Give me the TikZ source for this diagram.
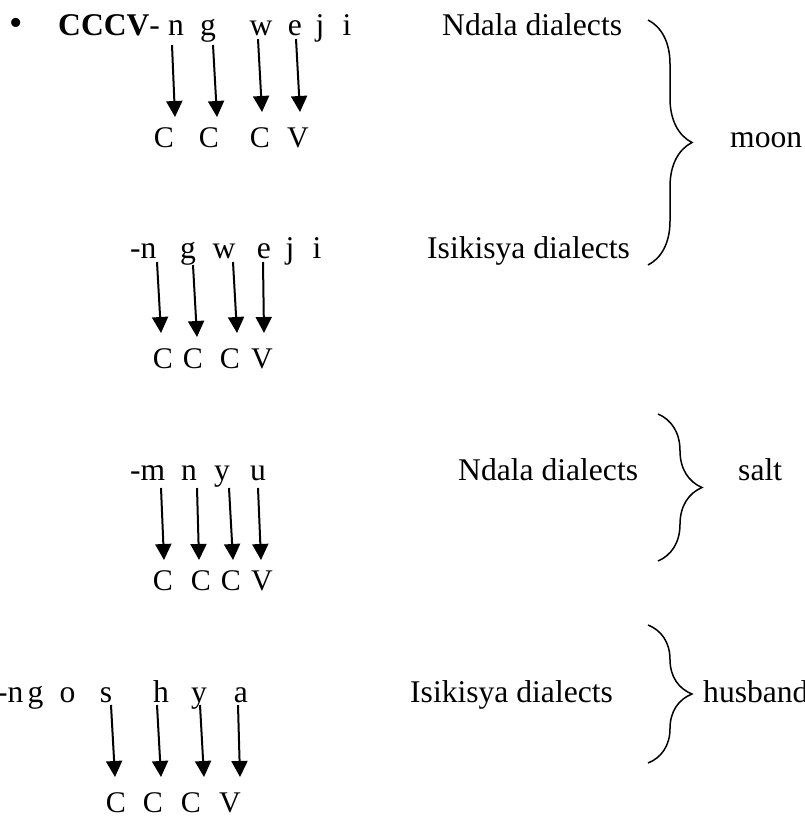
\documentclass[tikz,border=0pt]{standalone}
\usepackage{fontspec}
\setmainfont{Liberation Serif}
\usetikzlibrary{arrows.meta}
\usetikzlibrary{decorations.pathreplacing}

\begin{document}
\begin{tikzpicture}[x=1pt,y=-1pt]

\tikzset{
  % letters of a word and the names, set on their baseline
  seg/.style={inner sep=0pt, anchor=base, font=\fontsize{31.6}{36}\selectfont},
  gloss/.style={seg, anchor=base west},
  % the C/V slots under a word
  slot/.style={seg, font=\fontsize{30}{34}\selectfont},
  % arrow from a letter down to its slot
  slot arrow/.style={line width=2pt, -{Triangle[width=16pt,length=16pt]}},
  % brace that groups the dialect forms
  group brace/.style={line width=1.5pt, decorate, decoration={brace, amplitude=44pt}},
}

\useasboundingbox (0,0) rectangle (805,817);

% ngweji, Ndala
\node[seg, anchor=center, font=\fontsize{38}{38}\selectfont] (dot) at (16.5,27) {\textbullet};
\node[gloss] (cccv) at (58,35) {\textbf{CCCV}-};
\foreach \l/\x [count=\k] in {n/176,g/208,w/261,e/295,j/320,i/347}
  \node[seg] (a\k) at (\x,35) {\l};
\foreach \l/\x [count=\k] in {C/164,C/209,C/260,V/298}
  \node[slot] (ca\k) at (\x,147) {\l};
\foreach \xa/\ya/\xb/\yb [count=\k] in {172/45/175/117,213/45/217/117,258/39/262/112,296/39/300/112} {
  \coordinate (ta\k) at (\xa,\ya);
  \coordinate (ha\k) at (\xb,\yb);
  \draw[slot arrow] (ta\k) -- (ha\k);
}

% ngweji, Isikisya
\node[gloss] (b1) at (130,258) {-n};
\foreach \l/\x [count=\k] in {g/188,w/224,e/264,j/290,i/317}
  \node[seg] (b\the\numexpr\k+1\relax) at (\x,258) {\l};
\foreach \l/\x [count=\k] in {C/163,C/193,C/230,V/262}
  \node[slot] (cb\k) at (\x,368) {\l};
\foreach \xa/\ya/\xb/\yb [count=\k] in {157/262/161/333,193/265/197/337,233/262/237/333,263/262/264/333} {
  \coordinate (tb\k) at (\xa,\ya);
  \coordinate (hb\k) at (\xb,\yb);
  \draw[slot arrow] (tb\k) -- (hb\k);
}

% mnyu
\node[gloss] (c1) at (130,480) {-m};
\foreach \l/\x [count=\k] in {n/189,y/222,u/258}
  \node[seg] (c\the\numexpr\k+1\relax) at (\x,480) {\l};
\foreach \l/\x [count=\k] in {C/163,C/201,C/231,V/262}
  \node[slot] (cc\k) at (\x,590) {\l};
\foreach \xa/\ya/\xb/\yb [count=\k] in {161/488/164/560,197/488/199/560,229/488/233/560,258/488/261/560} {
  \coordinate (tc\k) at (\xa,\ya);
  \coordinate (hc\k) at (\xb,\yb);
  \draw[slot arrow] (tc\k) -- (hc\k);
}

% ngoshya
\node[gloss] (d1) at (-3,702) {-n};
\foreach \l/\x [count=\k] in {g/35.5,o/67.5,s/106,h/161,y/199,a/241}
  \node[seg] (d\the\numexpr\k+1\relax) at (\x,702) {\l};
\foreach \l/\x [count=\k] in {C/116,C/153,C/191,V/230}
  \node[slot] (cd\k) at (\x,812) {\l};
\foreach \xa/\ya/\xb/\yb [count=\k] in {111/705/115/777,157/705/161/777,200/705/204/777,238/705/240/777} {
  \coordinate (td\k) at (\xa,\ya);
  \coordinate (hd\k) at (\xb,\yb);
  \draw[slot arrow] (td\k) -- (hd\k);
}

% dialect names, braces and meanings
\node[gloss] (ndala1) at (442,35) {Ndala dialects};
\node[gloss] (isik1) at (427,258) {Isikisya dialects};
\coordinate (moontop) at (648,20);
\coordinate (moonbot) at (648,265);
\draw[group brace] (moontop) -- (moonbot);
\node[gloss] (moon) at (730,147) {moon};

\node[gloss] (ndala2) at (458,480) {Ndala dialects};
\coordinate (salttop) at (658,414);
\coordinate (saltbot) at (658,561);
\draw[group brace] (salttop) -- (saltbot);
\node[gloss] (salt) at (738,480) {salt};

\node[gloss] (isik2) at (410,702) {Isikisya dialects};
\coordinate (husbtop) at (648,625);
\coordinate (husbbot) at (648,763);
\draw[group brace] (husbtop) -- (husbbot);
\node[gloss] (husband) at (703,702) {husband};

\end{tikzpicture}
\end{document}
